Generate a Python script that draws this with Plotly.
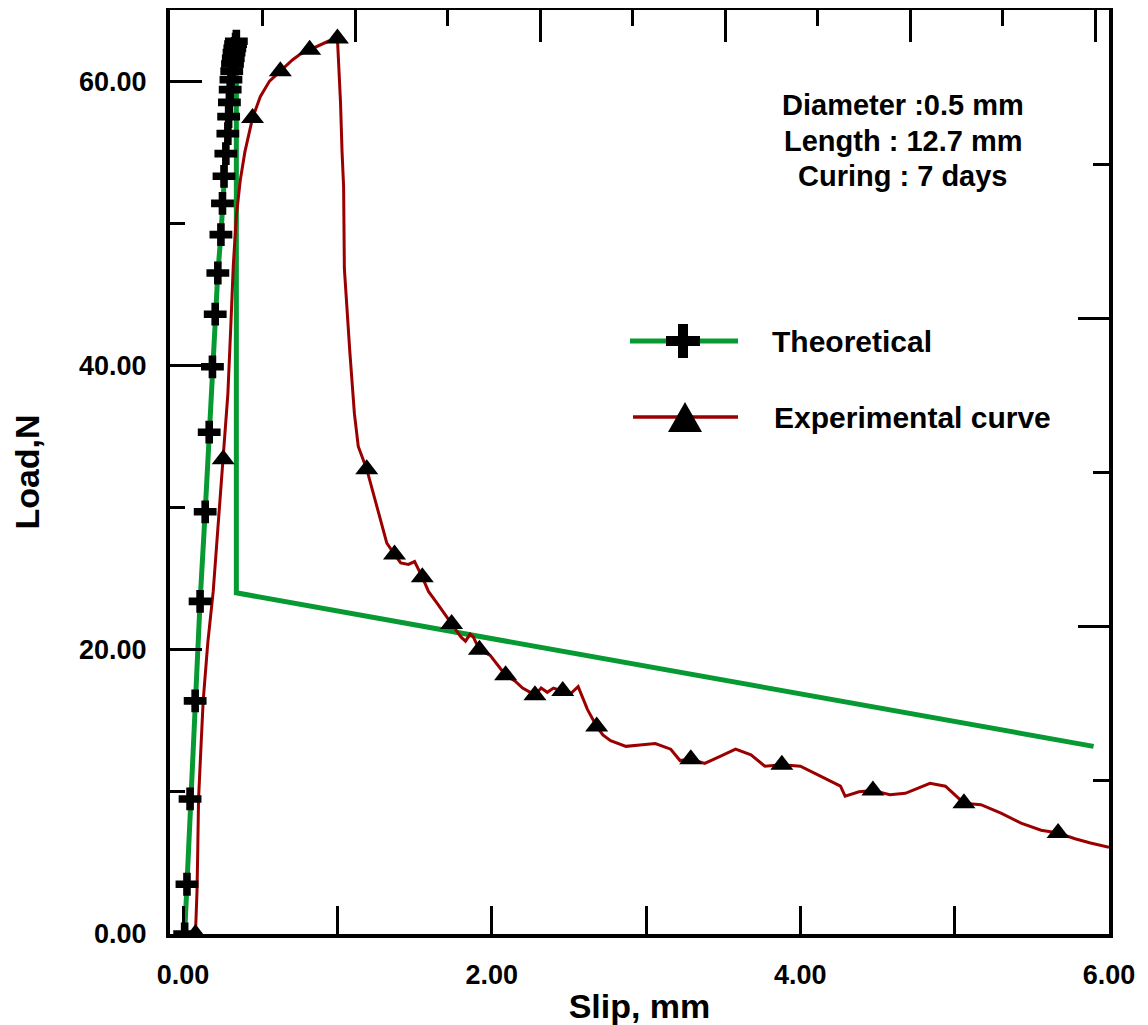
import plotly.graph_objects as go

# ---------------- data ----------------
# Theoretical curve: points carrying "+" markers (rising branch)
theo_slip = [0.010, 0.025, 0.045, 0.078, 0.110, 0.143, 0.169, 0.190, 0.208, 0.225,
             0.245, 0.255, 0.265, 0.277, 0.290, 0.295, 0.300, 0.305, 0.310, 0.315,
             0.320, 0.325, 0.330, 0.335, 0.340, 0.345]
theo_load = [0.0, 3.5, 9.5, 16.4, 23.4, 29.7, 35.3, 39.9, 43.6, 46.5,
             49.2, 51.4, 53.3, 54.9, 56.3, 57.5, 58.5, 59.4, 60.1, 60.7,
             61.2, 61.6, 62.0, 62.3, 62.6, 62.8]
# Theoretical curve: post-peak branch (no markers)
theo_tail_slip = [0.345, 5.90]
theo_tail_load = [24.0, 13.2]

# Experimental curve (dense line)
exp_slip = [0.08, 0.09, 0.095, 0.10, 0.115, 0.13, 0.16, 0.195, 0.225, 0.26,
            0.29, 0.31, 0.325, 0.345, 0.37, 0.40, 0.45, 0.50, 0.56, 0.63,
            0.71, 0.76, 0.82, 0.88, 0.94, 1.00, 1.02, 1.03, 1.04, 1.045,
            1.06, 1.08, 1.11, 1.135, 1.19, 1.26, 1.32, 1.37, 1.41, 1.46,
            1.50, 1.55, 1.59, 1.65, 1.69, 1.74, 1.80, 1.83, 1.86, 1.88,
            1.92, 1.99, 2.04, 2.09, 2.15, 2.20, 2.25, 2.28, 2.32, 2.36,
            2.40, 2.46, 2.51, 2.56, 2.62, 2.68, 2.72, 2.77, 2.87, 2.96,
            3.06, 3.16, 3.22, 3.29, 3.38, 3.48, 3.58, 3.68, 3.77, 3.88,
            4.00, 4.13, 4.26, 4.29, 4.38, 4.47, 4.58, 4.68, 4.75, 4.84,
            4.94, 5.06, 5.17, 5.30, 5.43, 5.56, 5.67, 5.78, 5.88, 6.00]
exp_load = [0.0, 3.0, 6.0, 9.5, 13.0, 16.4, 20.5, 24.1, 28.5, 33.4,
            38.0, 43.0, 47.0, 50.5, 53.0, 55.0, 57.4, 58.9, 60.0, 60.7,
            61.5, 61.9, 62.2, 62.5, 62.8, 63.0, 58.5, 55.0, 52.6, 46.8,
            44.0, 41.0, 36.6, 34.3, 32.7, 30.0, 27.5, 26.7, 26.1, 26.0,
            26.2, 25.1, 24.1, 23.2, 22.6, 21.8, 20.9, 20.6, 21.1, 20.9,
            20.0, 19.6, 18.9, 18.2, 17.8, 17.3, 17.0, 16.8, 17.3, 17.0,
            17.3, 17.1, 16.9, 17.4, 15.8, 14.6, 14.0, 13.6, 13.2, 13.3,
            13.4, 13.0, 12.2, 12.3, 12.0, 12.5, 13.0, 12.6, 11.8, 11.9,
            11.8, 11.1, 10.4, 9.7, 10.0, 10.1, 9.8, 9.9, 10.2, 10.6,
            10.4, 9.2, 9.1, 8.5, 7.8, 7.3, 7.1, 6.7, 6.4, 6.1]
# Experimental curve: points carrying triangle markers
exp_mark_slip = [0.08, 0.26, 0.45, 0.63, 0.82, 1.00, 1.19, 1.37, 1.55, 1.74,
                 1.92, 2.09, 2.28, 2.46, 2.68, 3.29, 3.88, 4.47, 5.06, 5.67]
exp_mark_load = [0.0, 33.4, 57.4, 60.7, 62.2, 63.0, 32.7, 26.7, 25.1, 21.8,
                 20.0, 18.2, 16.8, 17.1, 14.6, 12.3, 11.9, 10.1, 9.2, 7.1]

x_tick_vals = [0, 2, 4, 6]
y_tick_vals = [0, 20, 40, 60]
info_lines = ["Diameter :0.5 mm", "Length : 12.7 mm", "Curing : 7 days"]
legend_names = ["Theoretical", "Experimental curve"]

GREEN = "#079A33"
RED = "#9A0000"
FONT = "Arial, 'Liberation Sans', sans-serif"

fig = go.Figure()

# theoretical line (rising + post-peak branch)
fig.add_trace(go.Scatter(
    x=theo_slip + theo_tail_slip, y=theo_load + theo_tail_load,
    mode="lines", line=dict(color=GREEN, width=5),
    showlegend=False, hoverinfo="skip"))
# experimental line
fig.add_trace(go.Scatter(
    x=exp_slip, y=exp_load, mode="lines",
    line=dict(color=RED, width=3), showlegend=False, hoverinfo="skip"))
# markers
fig.add_trace(go.Scatter(
    x=theo_slip, y=theo_load, mode="markers", name=legend_names[0],
    marker=dict(symbol="cross", size=19, color="black", line=dict(width=0)),
    showlegend=False))
fig.add_trace(go.Scatter(
    x=exp_mark_slip, y=exp_mark_load, mode="markers", name=legend_names[1],
    marker=dict(symbol="triangle-up", size=20, color="black", line=dict(width=0)),
    showlegend=False))
# empty trace to anchor the mirrored (top/right) axes
fig.add_trace(go.Scatter(x=[None], y=[None], xaxis="x2", yaxis="y2",
                         showlegend=False, hoverinfo="skip"))

# ---------------- layout ----------------
# the page body adds an 8 px offset; the figure is sized so the plot frame
# lands at window pixels x 170..1109, y 10..934
OFF = 8
W, H = 1148 - OFF, 1025 - OFF
ML, MR, MT, MB = 170 - OFF, 39, 10 - OFF, 91
PW, PH = W - ML - MR, H - MT - MB


def px2paper(px, py):
    """window pixel -> paper fraction"""
    return (px - OFF - ML) / PW, (H - MB - (py - OFF)) / PH


axis_common = dict(showgrid=False, zeroline=False, showline=True,
                   linecolor="black", linewidth=4, ticks="inside",
                   tickcolor="black", tickwidth=3)

fig.update_layout(
    width=W, height=H,
    margin=dict(l=ML, r=MR, t=MT, b=MB),
    paper_bgcolor="white", plot_bgcolor="white",
    font=dict(family=FONT, color="black"),
    showlegend=False,
    xaxis=dict(**axis_common, range=[-0.085, 6.0], tickmode="array",
               tickvals=x_tick_vals, tickformat=".2f", ticklen=28,
               minor=dict(dtick=1, tick0=0, ticks="inside", ticklen=28,
                          tickwidth=3, tickcolor="black", showgrid=False),
               tickfont=dict(size=27, weight="bold"), ticklabelstandoff=14,
               title=dict(text="Slip, mm", font=dict(size=34, weight="bold"),
                          standoff=6)),
    yaxis=dict(**axis_common, range=[0, 65], tickmode="array",
               tickvals=y_tick_vals, tickformat=".2f", ticklen=32,
               minor=dict(dtick=10, tick0=0, ticks="inside", ticklen=15,
                          tickwidth=3, tickcolor="black", showgrid=False),
               tickfont=dict(size=27, weight="bold"), ticklabelstandoff=14,
               title=dict(text="Load,N", font=dict(size=34, weight="bold"),
                          standoff=30)),
    xaxis2=dict(**axis_common, overlaying="x", side="top", anchor="y2",
                range=[0, 10.15], dtick=2, tick0=0, ticklen=32,
                showticklabels=False,
                minor=dict(dtick=1, tick0=0, ticks="inside", ticklen=16,
                           tickwidth=3, tickcolor="black", showgrid=False)),
    yaxis2=dict(**axis_common, overlaying="y", side="right", anchor="x2",
                range=[0, 6], dtick=2, tick0=0, ticklen=31,
                showticklabels=False,
                minor=dict(dtick=1, tick0=0, ticks="inside", ticklen=16,
                           tickwidth=3, tickcolor="black", showgrid=False)),
)

# info text block (one annotation per line to keep the tight line spacing)
for line_text, py in zip(info_lines, [105, 141, 176]):
    ix, iy = px2paper(903, py)
    fig.add_annotation(xref="paper", yref="paper", x=ix, y=iy,
                       xanchor="center", yanchor="middle", showarrow=False,
                       text=line_text,
                       font=dict(size=29, weight="bold", family=FONT))

# custom legend (large symbols, long sample lines)
g0x, gy = px2paper(630, 341)
g1x, _ = px2paper(738, 341)
r0x, ry = px2paper(633, 417)
r1x, _ = px2paper(738, 417)
fig.add_shape(type="line", xref="paper", yref="paper", x0=g0x, x1=g1x, y0=gy, y1=gy,
              line=dict(color=GREEN, width=5))
fig.add_shape(type="line", xref="paper", yref="paper", x0=r0x, x1=r1x, y0=ry, y1=ry,
              line=dict(color=RED, width=3.5))
cx, cy = px2paper(683, 341)
fig.add_shape(type="path", xref="paper", yref="paper", xsizemode="pixel", ysizemode="pixel",
              xanchor=cx, yanchor=cy,
              path="M-17,-5 H-5 V-17 H5 V-5 H17 V5 H5 V17 H-5 V5 H-17 Z",
              fillcolor="black", line=dict(width=0))
tx, ty = px2paper(685, 417)
fig.add_shape(type="path", xref="paper", yref="paper", xsizemode="pixel", ysizemode="pixel",
              xanchor=tx, yanchor=ty,
              path="M-17,-15 L17,-15 L0,15 Z",
              fillcolor="black", line=dict(width=0))
lx1, ly1 = px2paper(770, 341)
lx2, ly2 = px2paper(772, 417)
fig.add_annotation(xref="paper", yref="paper", x=lx1, y=ly1, xanchor="left",
                   yanchor="middle", showarrow=False, text=legend_names[0],
                   font=dict(size=30, weight="bold", family=FONT))
fig.add_annotation(xref="paper", yref="paper", x=lx2, y=ly2, xanchor="left",
                   yanchor="middle", showarrow=False, text=legend_names[1],
                   font=dict(size=30, weight="bold", family=FONT))

fig.write_html("out.html")
